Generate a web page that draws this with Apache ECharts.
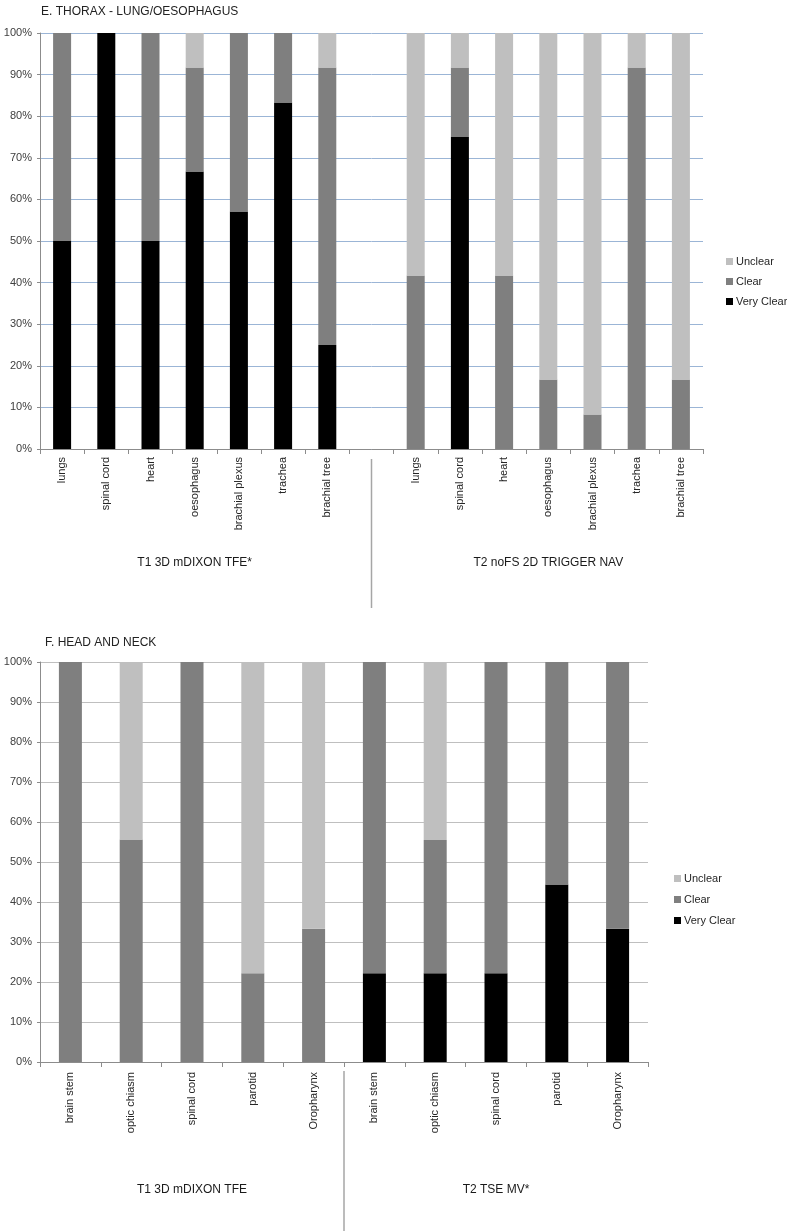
<!DOCTYPE html>
<html>
<head>
<meta charset="utf-8">
<script src="https://cdn.jsdelivr.net/npm/echarts@6/dist/echarts.min.js"></script>
<style>
html,body{margin:0;padding:0;background:#fff;}
#c{width:787px;height:1231px;}
</style>
</head>
<body>
<div id="c"></div>
<script>
// ---- Data: E. Thorax ----
const topTitle = 'E. THORAX - LUNG/OESOPHAGUS';
const topCategories = ['lungs','spinal cord','heart','oesophagus','brachial plexus','trachea','brachial tree','',
  'lungs','spinal cord','heart','oesophagus','brachial plexus','trachea','brachial tree'];
const topVeryClear = [50,100,50,66.7,57.1,83.3,25,null, 0,75,0,0,0,0,0];
const topClear     = [50,0,50,25,42.9,16.7,66.7,null, 41.7,16.7,41.7,16.7,8.3,91.7,16.7];
const topUnclear   = [0,0,0,8.3,0,0,8.3,null, 58.3,8.3,58.3,83.3,91.7,8.3,83.3];
const topGroups = ['T1 3D mDIXON TFE*','T2 noFS 2D TRIGGER NAV'];

// ---- Data: F. Head and neck ----
const botTitle = 'F. HEAD AND NECK';
const botCategories = ['brain stem','optic chiasm','spinal cord','parotid','Oropharynx',
  'brain stem','optic chiasm','spinal cord','parotid','Oropharynx'];
const botVeryClear = [0,0,0,0,0, 22.2,22.2,22.2,44.4,33.3];
const botClear     = [100,55.6,100,22.2,33.3, 77.8,33.3,77.8,55.6,66.7];
const botUnclear   = [0,44.4,0,77.8,66.7, 0,44.4,0,0,0];
const botGroups = ['T1 3D mDIXON TFE','T2 TSE MV*'];

const seriesNames = ['Unclear','Clear','Very Clear'];
const yTicks = {min:0, max:100, interval:10};

const C_UNCLEAR = '#BFBFBF', C_CLEAR = '#7F7F7F', C_VC = '#000000';
const FONT = 'Liberation Sans, Arial, sans-serif';

const chart = echarts.init(document.getElementById('c'), null, {renderer:'canvas'});

function yAxis(gridIndex, gridColor){
  return {
    type:'value', gridIndex, min:yTicks.min, max:yTicks.max, interval:yTicks.interval,
    axisLine:{show:true, lineStyle:{color:'#8C8C8C', width:1}},
    axisTick:{show:true, length:3, lineStyle:{color:'#8C8C8C'}},
    axisLabel:{formatter:'{value}%', fontSize:11, color:'#404040', fontFamily:FONT, margin:8},
    splitLine:{show:true, lineStyle:{color:gridColor, width:1}}
  };
}
function xAxis(gridIndex, cats, margin){
  return {
    type:'category', gridIndex, data:cats,
    axisLine:{show:true, lineStyle:{color:'#8C8C8C', width:1}},
    axisTick:{show:true, length:5, lineStyle:{color:'#8C8C8C'}},
    axisLabel:{interval:0, rotate:90, fontSize:11, color:'#262626', fontFamily:FONT, margin:margin},
    splitLine:{show:false}
  };
}
function bar(name, data, xi, stack, color, w){
  return {name, type:'bar', xAxisIndex:xi, yAxisIndex:xi, stack, data,
    barWidth:w, itemStyle:{color}, emphasis:{disabled:true}, animation:false};
}

const option = {
  animation:false,
  backgroundColor:'#fff',
  title:[
    {text:topTitle, left:36, top:1, textStyle:{fontSize:12, fontWeight:'normal', color:'#222', fontFamily:FONT}},
    {text:botTitle, left:40, top:632, textStyle:{fontSize:12, fontWeight:'normal', color:'#222', fontFamily:FONT}}
  ],
  legend:[
    {data:seriesNames, orient:'vertical', left:721, top:251, itemWidth:7, itemHeight:7, itemGap:9,
      icon:'rect', textStyle:{fontSize:11, color:'#262626', fontFamily:FONT, padding:[0,0,0,-2]}},
    {data:seriesNames, orient:'vertical', left:669, top:868, itemWidth:7, itemHeight:7, itemGap:10,
      icon:'rect', textStyle:{fontSize:11, color:'#262626', fontFamily:FONT, padding:[0,0,0,-2]}}
  ],
  grid:[
    {left:40, top:33, width:663, height:416, containLabel:false},
    {left:40, top:662, width:608, height:400, containLabel:false}
  ],
  xAxis:[xAxis(0, topCategories, 8), xAxis(1, botCategories, 10)],
  yAxis:[yAxis(0, '#9BB5D6'), yAxis(1, '#BFBFBF')],
  series:[
    bar('Very Clear', topVeryClear, 0, 'top', C_VC, 18),
    bar('Clear', topClear, 0, 'top', C_CLEAR, 18),
    bar('Unclear', topUnclear, 0, 'top', C_UNCLEAR, 18),
    bar('Very Clear', botVeryClear, 1, 'bot', C_VC, 23),
    bar('Clear', botClear, 1, 'bot', C_CLEAR, 23),
    bar('Unclear', botUnclear, 1, 'bot', C_UNCLEAR, 23)
  ]
};
chart.setOption(option);

// group labels & separators, positioned from the axes
function px(axisIdx, i){ return chart.convertToPixel({xAxisIndex:axisIdx}, i); }
const topSep = px(0, 7);
const topC1 = (px(0,0)+px(0,6))/2, topC2 = (px(0,8)+px(0,14))/2;
const botSep = (px(1,4)+px(1,5))/2;
const botC1 = (px(1,0)+px(1,4))/2, botC2 = (px(1,5)+px(1,9))/2;

function label(text, x, y){
  return {type:'text', x, y, style:{text, fontSize:12, fontFamily:FONT, fill:'#1a1a1a', align:'center', verticalAlign:'middle'}};
}
function vline(x, y1, y2){
  return {type:'line', shape:{x1:x, y1, x2:x, y2}, style:{stroke:'#A6A6A6', lineWidth:1.5}};
}
chart.setOption({graphic:[
  vline(topSep, 459, 608),
  label(topGroups[0], topC1, 563),
  label(topGroups[1], topC2, 563),
  vline(botSep, 1071, 1231),
  label(botGroups[0], botC1, 1190),
  label(botGroups[1], botC2, 1190)
]});
</script>
</body>
</html>
